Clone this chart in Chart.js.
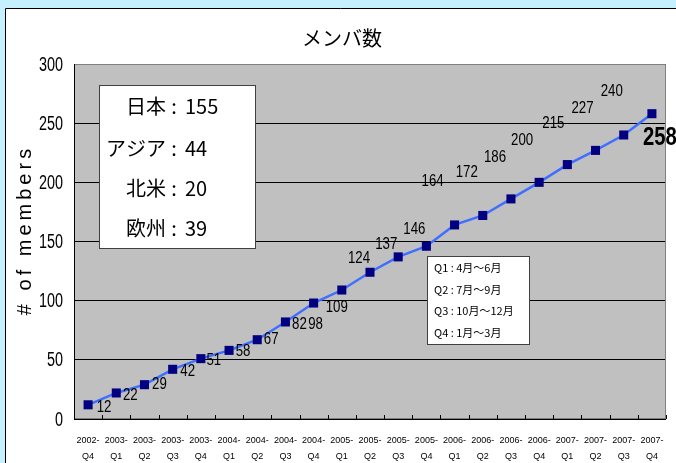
<!DOCTYPE html>
<html>
<head>
<meta charset="utf-8">
<script src="https://cdn.jsdelivr.net/npm/chart.js@4/dist/chart.umd.min.js"></script>
<style>
  html, body { margin: 0; padding: 0; background: #c4f0ff; }
  #wrap { position: relative; width: 676px; height: 463px; }
  canvas { position: absolute; left: 0; top: 0; }
</style>
</head>
<body>
<div id="wrap"><canvas id="chart-1" width="676" height="463"></canvas></div>
<script>
const quarters = ['2002-Q4', '2003-Q1', '2003-Q2', '2003-Q3', '2003-Q4', '2004-Q1', '2004-Q2',
  '2004-Q3', '2004-Q4', '2005-Q1', '2005-Q2', '2005-Q3', '2005-Q4', '2006-Q1', '2006-Q2',
  '2006-Q3', '2006-Q4', '2007-Q1', '2007-Q2', '2007-Q3', '2007-Q4'];
const members = [12, 22, 29, 42, 51, 58, 67, 82, 98, 109, 124, 137, 146, 164, 172, 186, 200, 215, 227, 240, 258];
const yTicks = [0, 50, 100, 150, 200, 250, 300];

const regions = ['日本', 'アジア', '北米', '欧州'];
const regionCounts = [155, 44, 20, 39];
const quarterNotes = ['Q1 : 4月～6月', 'Q2 : 7月～9月', 'Q3 : 10月～12月', 'Q4 : 1月～3月'];

// where each value label sits relative to its point (px)
const labelDx = [16, 14, 15, 15, 13, 14, 14, 14, 2, -5, -11, -12, -12, -22, -16, -16, -17, -14, -13, -12, 8];
const labelDy = [3, 2, 0, 2, 2, 1, 0, 2, 21, 17, -14, -13, -17, -44, -43, -42, -42, -41, -42, -44, 24];

const SANS = "'Liberation Sans', Arial, sans-serif";
const JP = "'Noto Sans CJK JP', sans-serif";

// no narrow face installed, so squeeze a normal one
function narrowText(c, text, x, y, font, sx, align) {
  c.save();
  c.translate(x, y);
  c.scale(sx, 1);
  c.font = font;
  c.textAlign = align;
  c.textBaseline = 'middle';
  c.fillText(text, 0, 0);
  c.restore();
}

const decor = {
  id: 'decor',
  beforeDraw(chart) {
    const c = chart.ctx, a = chart.chartArea;
    c.save();
    c.fillStyle = '#c4f0ff';
    c.fillRect(0, 0, chart.width, chart.height);
    c.fillStyle = '#ffffff';
    c.fillRect(5, 8, chart.width, chart.height);
    c.strokeStyle = '#000000';
    c.lineWidth = 1;
    c.beginPath();
    c.moveTo(5.5, chart.height);
    c.lineTo(5.5, 8.5);
    c.lineTo(chart.width, 8.5);
    c.stroke();
    c.fillStyle = '#c0c0c0';
    c.fillRect(a.left, a.top, a.right - a.left, a.bottom - a.top);
    c.restore();
  },
  afterDraw(chart) {
    const c = chart.ctx, a = chart.chartArea;
    const xs = chart.scales.x, ys = chart.scales.y;
    c.save();
    // plot frame
    c.strokeStyle = '#808080';
    c.lineWidth = 1;
    c.strokeRect(a.left + 0.5, a.top + 0.5, a.right - a.left - 1, a.bottom - a.top - 1);
    c.strokeStyle = '#000';
    c.beginPath();
    c.moveTo(a.left + 0.5, a.top);
    c.lineTo(a.left + 0.5, a.bottom + 0.5);
    c.lineTo(a.right, a.bottom + 0.5);
    c.stroke();
    // category tick marks (inside)
    const step = (xs.getPixelForValue(1) - xs.getPixelForValue(0));
    c.beginPath();
    for (let i = 1; i <= quarters.length; i++) {
      const x = Math.round(xs.getPixelForValue(i) - step / 2) + 0.5;
      c.moveTo(x, a.bottom);
      c.lineTo(x, a.bottom - 4);
    }
    c.stroke();

    c.fillStyle = '#000';
    // y tick labels
    yTicks.forEach(v => narrowText(c, String(v), 63, ys.getPixelForValue(v) + 1, '20px ' + SANS, 0.72, 'right'));

    // title
    c.font = '20px ' + JP;
    c.textAlign = 'center';
    c.textBaseline = 'middle';
    c.fillText('メンバ数', 342, 38);

    // y axis title
    c.save();
    c.translate(25, 232);
    c.rotate(-Math.PI / 2);
    c.font = '20px ' + SANS;
    c.letterSpacing = '4px';
    c.fillText('# of members', 2, 0);
    c.restore();

    // value labels
    const meta = chart.getDatasetMeta(0);
    meta.data.forEach((pt, i) => {
      const last = i === members.length - 1;
      narrowText(c, String(members[i]), pt.x + labelDx[i], pt.y + labelDy[i],
        last ? 'bold 26px ' + SANS : '17px ' + SANS, 0.78, 'center');
    });

    // region box
    c.fillStyle = '#fff';
    c.fillRect(99, 85, 156, 163);
    c.strokeStyle = '#404040';
    c.strokeRect(99.5, 85.5, 156, 163);
    c.fillStyle = '#000';
    c.font = '20px ' + JP;
    c.textBaseline = 'middle';
    const rowY = [106, 148, 188, 228];
    regions.forEach((r, i) => {
      c.textAlign = 'right';
      c.fillText(r, 166, rowY[i]);
      c.textAlign = 'center';
      c.fillText(':', 174, rowY[i]);
      c.textAlign = 'left';
      c.fillText(String(regionCounts[i]), 185, rowY[i]);
    });

    // quarter note box
    c.fillStyle = '#fff';
    c.fillRect(427, 256, 102, 88);
    c.strokeStyle = '#404040';
    c.strokeRect(427.5, 256.5, 102, 88);
    c.fillStyle = '#000';
    c.font = '11px ' + JP;
    c.textAlign = 'left';
    quarterNotes.forEach((t, i) => c.fillText(t, 434, 268 + i * 21.5));
    c.restore();
  }
};

new Chart(document.getElementById('chart-1').getContext('2d'), {
  type: 'line',
  data: {
    labels: quarters.map(q => [q.slice(0, 5), q.slice(5)]),
    datasets: [{
      data: members,
      borderColor: '#3f6fff',
      borderWidth: 2.5,
      tension: 0,
      pointStyle: 'rect',
      pointRadius: 6.4,
      pointHoverRadius: 6.4,
      pointBackgroundColor: '#000080',
      pointBorderColor: '#000080',
      pointBorderWidth: 0,
      clip: false
    }]
  },
  options: {
    responsive: false,
    animation: false,
    events: [],
    layout: { padding: { top: 64, right: 10, left: 0, bottom: 0 } },
    plugins: { legend: { display: false }, tooltip: { enabled: false }, title: { display: false } },
    scales: {
      x: {
        offset: true,
        grid: { display: false },
        border: { display: false },
        ticks: {
          color: '#000',
          font: { size: 9, family: SANS, lineHeight: 1.75 },
          maxRotation: 0,
          autoSkip: false,
          padding: 6
        },
        afterFit(s) { s.height = 44; }
      },
      y: {
        min: 0,
        max: 300,
        afterBuildTicks(s) { s.ticks = yTicks.map(v => ({ value: v })); },
        grid: { color: '#000', lineWidth: 1, drawTicks: false },
        border: { display: false },
        ticks: { display: false },
        afterFit(s) { s.width = 74; }
      }
    }
  },
  plugins: [decor]
});
</script>
</body>
</html>
